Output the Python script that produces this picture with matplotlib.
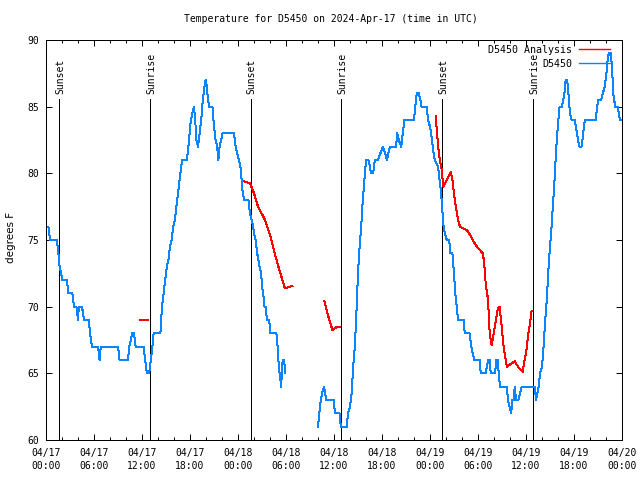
import numpy as np
import matplotlib
matplotlib.use("Agg")
import matplotlib.pyplot as plt
import matplotlib.transforms as mtransforms

# ---------------- data (hours since 2024-04-17 00:00 UTC) ----------------
obs_hours = [
    0.3, 0.5, 1.35, 1.55, 1.7, 1.9, 2.0, 2.6, 2.8, 3.3, 3.5, 3.8, 4.0, 4.1, 4.5, 4.75, 5.35,
    5.5, 5.75, 6.5, 6.7, 6.85, 9.0, 9.2, 10.25, 10.4, 10.6, 10.75, 11.0, 11.2, 12.2, 12.4,
    12.6, 12.9, 13.1, 13.3, 13.45, 14.3, 14.5, 14.7, 14.9, 15.1, 15.3, 15.5, 15.7, 15.9,
    16.1, 16.3, 16.5, 16.7, 16.9, 17.0, 17.6, 17.8, 17.95, 18.1, 18.3, 18.5, 18.65, 18.8,
    19.0, 19.2, 19.4, 19.6, 19.8, 19.95, 20.1, 20.25, 20.4, 20.8, 21.0, 21.2, 21.4, 21.55,
    21.7, 21.9, 22.05, 23.5, 23.7, 23.9, 24.1, 24.3, 24.45, 24.6, 24.8, 25.3, 25.5, 25.7,
    25.9, 26.0, 26.2, 26.4, 26.55, 26.7, 26.9, 27.0, 27.15, 27.3, 27.5, 27.6, 27.9, 28.05,
    28.8, 28.95, 29.05, 29.2, 29.3, 29.4, 29.5, 29.6, 29.75, 29.85, 29.9,
    31.0,
    34.0, 34.2, 34.35, 34.5, 34.75, 34.9, 35.0, 36.0, 36.1, 36.7, 36.85, 37.6, 37.75, 38.0,
    38.2, 38.4, 38.6, 38.8, 39.0, 39.2, 39.4, 39.6, 39.8, 40.0, 40.3, 40.5, 40.6, 40.9,
    41.1, 41.5, 41.8, 42.1, 42.4, 42.6, 42.8, 43.0, 43.75, 43.9, 44.1, 44.4, 44.6, 44.8,
    46.0, 46.15, 46.35, 46.6, 46.8, 46.95, 47.6, 47.75, 48.0, 48.2, 48.4, 48.6, 49.0, 49.2,
    49.4, 49.5, 49.7, 49.85, 50.1, 50.4, 50.55, 50.8, 51.0, 51.15, 51.35, 51.5, 52.2, 52.35,
    52.95, 53.15, 53.35, 53.55, 54.2, 54.35, 54.95, 55.1, 55.3, 55.45, 55.6, 56.15, 56.25,
    56.45, 56.6, 56.75, 57.6, 57.75, 57.95, 58.15, 58.3, 58.45, 58.6, 58.75, 59.05, 59.25,
    59.45, 61.1, 61.25, 61.4, 61.6, 61.75, 62.0, 62.2, 62.4, 62.6, 62.8, 63.0, 63.2, 63.35,
    63.5, 63.7, 63.85, 64.0, 64.2, 64.5, 64.8, 64.95, 65.15, 65.3, 65.5, 65.7, 66.1, 66.3,
    66.5, 66.7, 66.95, 67.15, 67.35, 68.7, 68.85, 69.0, 69.4, 69.6, 69.85, 70.05, 70.2,
    70.35, 70.6, 70.75, 70.9, 71.15, 71.45, 71.6, 71.75, 72.0,
]
obs_temp = [
    76, 75, 75, 74, 73, 72.5, 72, 72, 71, 71, 70, 70, 69, 70, 70, 69, 69,
    68, 67, 67, 66, 67, 67, 66, 66, 67, 67.5, 68, 68, 67, 67, 66,
    65, 65, 66, 67, 68, 68, 70, 71, 72, 73, 73.5, 74.5, 75, 76,
    76.5, 77.5, 78.5, 79.5, 80.5, 81, 81, 82, 83, 84, 84.5, 85, 84, 82.5,
    82, 83, 84, 85.5, 86.5, 87, 86.5, 85.5, 85, 85, 83.5, 82.5, 82, 81,
    82, 82.5, 83, 83, 82, 81.5, 81, 80.5, 79.5, 78.5, 78, 78, 77, 76.5,
    76, 75.5, 75, 74, 73.5, 73, 72.5, 71.5, 71, 70, 70, 69, 69, 68,
    68, 67, 66, 65, 64.5, 64, 65.5, 66, 66, 65.5, 65,
    np.nan,
    61, 62.25, 63, 63.5, 64, 63.5, 63, 63, 62, 62, 61, 61, 62, 62.5,
    63.5, 65.5, 67, 69.5, 72.5, 74.5, 76, 78, 79.5, 81, 81, 80.5, 80, 80,
    81, 81, 81.5, 82, 81.5, 81, 81.5, 82, 82, 83, 82.5, 82, 83, 84,
    84, 85, 86, 86, 85.5, 85, 85, 84, 83.5, 82.75, 81.7, 81, 80.5, 79.5,
    78.5, 77.5, 76, 75.5, 75, 75, 74, 74, 72.5, 71, 70, 69, 69, 68,
    68, 67, 66.5, 66, 66, 65, 65, 65.5, 66, 66, 65, 65, 66,
    66, 65, 64, 64, 63, 62.5, 62, 63, 63, 64, 63, 63, 63.5,
    64, 64, 63, 63.5, 64, 65, 65.5, 67, 69, 70.5, 72.75, 74.5, 76, 77.5,
    78.75, 81, 82.5, 83.75, 85, 85, 86, 87, 87, 86, 84.5, 84, 84, 83.25,
    82.5, 82, 82, 83, 84, 84, 84.75, 85.5, 85.5, 86, 86.5, 87.5, 88.5,
    89, 89, 88, 86, 85, 85, 84.5, 84, 84,
]

ana_hours = [
    11.7, 12.8,
    12.9,
    24.7, 25.5, 26.0, 26.5, 27.3, 28.0, 28.5, 29.0, 29.5, 29.85, 30.3, 30.8,
    31.0,
    34.8, 35.3, 35.8, 36.3, 36.7,
    37.0,
    48.7, 49.1, 49.45, 49.67, 50.6, 50.8, 51.1, 51.5, 51.75, 52.6, 53.0, 53.4, 54.0, 54.6,
    54.75, 54.96, 55.2, 55.3, 55.4, 55.6, 55.7, 56.5, 56.7, 56.96, 57.2, 57.4, 57.6, 58.6,
    59.0, 59.6, 59.75, 60.0, 60.3, 60.5, 60.7,
]
ana_temp = [
    69.0, 69.0,
    np.nan,
    79.4, 79.25, 78.5, 77.5, 76.6, 75.4, 74.2, 73.1, 72.1, 71.4, 71.45, 71.55,
    np.nan,
    70.4, 69.25, 68.25, 68.45, 68.5,
    np.nan,
    84.3, 81.5, 80.3, 79.0, 80.1, 79.5, 78.0, 76.5, 76.0, 75.75, 75.4, 74.9, 74.4, 74.0,
    73.4, 71.75, 70.75, 70.0, 68.5, 67.4, 67.1, 69.9, 70.0, 68.5, 67.0, 66.25, 65.5, 65.9,
    65.5, 65.1, 65.75, 66.5, 68.0, 68.75, 69.7,
]

sun_hours = [1.66, 13.04, 25.59, 36.91, 49.54, 60.91]
sun_labels = ["Sunset", "Sunrise", "Sunset", "Sunrise", "Sunset", "Sunrise"]

xtick_hours = [0, 6, 12, 18, 24, 30, 36, 42, 48, 54, 60, 66, 72]
xtick_labels = ["04/17\n00:00", "04/17\n06:00", "04/17\n12:00", "04/17\n18:00",
                "04/18\n00:00", "04/18\n06:00", "04/18\n12:00", "04/18\n18:00",
                "04/19\n00:00", "04/19\n06:00", "04/19\n12:00", "04/19\n18:00",
                "04/20\n00:00"]
ytick_values = [60, 65, 70, 75, 80, 85, 90]

title = "Temperature for D5450 on 2024-Apr-17 (time in UTC)"
BLUE = "#0a84ff"
RED = "#ff0000"
MONO = "DejaVu Sans Mono"
LW = 0.72

# ---------------- figure ----------------
fig = plt.figure(figsize=(6.4, 4.8), dpi=100)
ax = fig.add_axes([46 / 640, 40 / 480, 576 / 640, 400 / 480])

ax.plot(ana_hours, ana_temp, color=RED, lw=LW, label="D5450 Analysis",
        antialiased=False, zorder=3)
ax.plot(obs_hours, obs_temp, color=BLUE, lw=LW, label="D5450",
        antialiased=False, zorder=3)

trans = mtransforms.blended_transform_factory(ax.transData, ax.transAxes)
for h, lab in zip(sun_hours, sun_labels):
    ax.plot([h, h], [0, 0.8525], transform=trans, color="black", lw=LW,
            antialiased=False, zorder=2)
    ax.text(h + 0.1, 0.866, lab, transform=trans, rotation=90, ha="center",
            va="bottom", family=MONO, fontsize=7)

ax.set_xlim(0, 72)
ax.set_ylim(60, 90)
ax.set_xticks(xtick_hours)
ax.set_xticklabels(xtick_labels, family=MONO, fontsize=7, linespacing=1.35)
ax.set_xticks(np.arange(0, 73, 2), minor=True)
ax.set_yticks(ytick_values)
ax.set_yticklabels([str(v) for v in ytick_values], family=MONO, fontsize=7)

ax.tick_params(which="both", direction="in", top=True, right=True,
               width=LW, color="black")
ax.tick_params(which="major", length=4)
ax.tick_params(axis="x", which="major", pad=6)
ax.tick_params(axis="y", which="major", pad=5)
ax.tick_params(which="minor", length=2)
for s in ax.spines.values():
    s.set_linewidth(LW)
    s.set_color("black")

fig.text(331 / 640, 1 - 19 / 480, title, ha="center", va="center",
         family=MONO, fontsize=7)
fig.text(11 / 640, 1 - 237 / 480, "degrees F", rotation=90, ha="center",
         va="center", family="DejaVu Sans", fontsize=7.5)

leg = ax.legend(loc="upper right", bbox_to_anchor=(0.979, 0.988), frameon=False,
                markerfirst=False, prop={"family": MONO, "size": 7.2},
                handlelength=3.1, handletextpad=0.7, labelspacing=0.42,
                borderpad=0, borderaxespad=0)
for hl in leg.get_lines():
    hl.set_linewidth(1.0)

fig.savefig("out.png", dpi=100)
